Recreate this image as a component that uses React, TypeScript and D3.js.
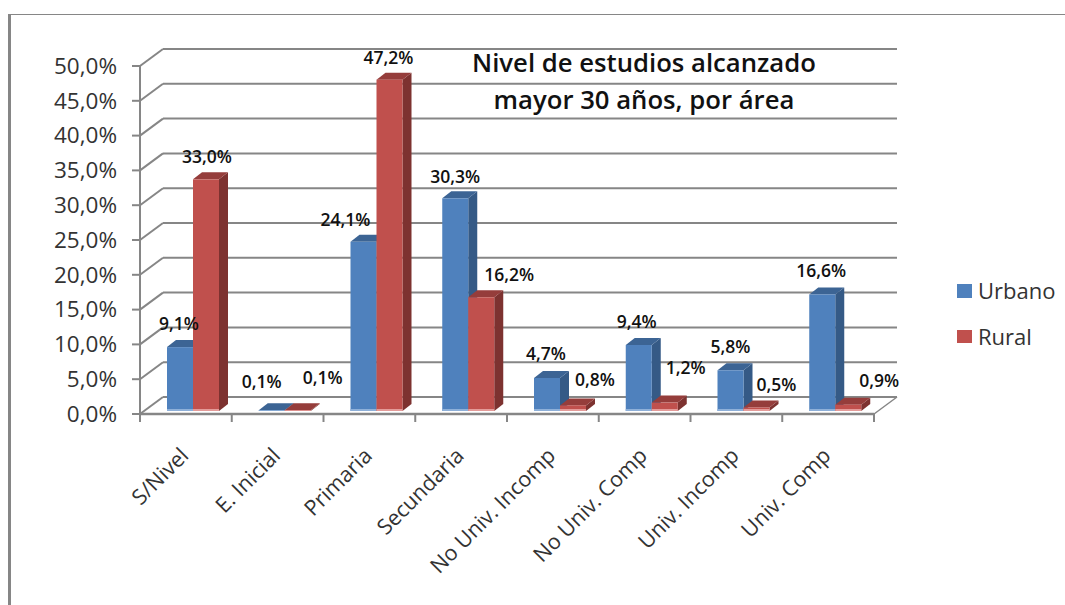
import React from "react";
import * as d3 from "d3";

const categories = ["S/Nivel", "E. Inicial", "Primaria", "Secundaria", "No Univ. Incomp", "No Univ. Comp", "Univ. Incomp", "Univ. Comp"];
const urbano = [9.1, 0.1, 24.1, 30.3, 4.7, 9.4, 5.8, 16.6];
const rural = [33.0, 0.1, 47.2, 16.2, 0.8, 1.2, 0.5, 0.9];
const ticks = [0, 5, 10, 15, 20, 25, 30, 35, 40, 45, 50];
const titleLines = ["Nivel de estudios alcanzado", "mayor 30 años, por área"];

// hand placed data labels, [dx from bar centre, y centre]
const urbanoLabels = [[-1, 324], [-10, 382], [-18, 220], [0, 177], [-1, 354], [-2, 322], [0, 347], [-1, 271]];
const ruralLabels = [[1, 157], [25, 378], [-1, 58], [28, 275], [22, 380], [21, 368], [20, 385], [31, 381]];

const FONT = "'Open Sans', 'Noto Sans', sans-serif";
const GRID = "#868686";
const BLUE = { front: "#4f81bd", side: "#355a86", top: "#3c6494", light: "#8eb0d9" };
const RED = { front: "#c0504d", side: "#7d3230", top: "#953d3b", light: "#e49b99" };

const margin = { left: 140, right: 874, top: 66, bottom: 414 };
const depth = { x: 23, y: 17 };
const barDepth = { x: 9, y: 7 };
const barW = 26;

const fmt = (v: number) => v.toFixed(1).replace(".", ",") + "%";

const App = () => {
  const x = d3.scaleBand<string>().domain(categories).range([margin.left, margin.right]);
  const y = d3.scaleLinear().domain([0, 50]).range([margin.bottom, margin.top]);
  // bars sit a little behind the front plane
  const yBar = d3.scaleLinear().domain([0, 50]).range([411, 60]);

  const bar = (cat: string, v: number, offset: number, c: typeof BLUE) => {
    const x0 = (x(cat) as number) + 27 + offset;
    const x1 = x0 + barW;
    const yt = yBar(v);
    const yb = yBar(0);
    const top = `M${x0},${yt}L${x0 + barDepth.x},${yt - barDepth.y}L${x1 + barDepth.x},${yt - barDepth.y}L${x1},${yt}Z`;
    const side = `M${x1},${yt}L${x1 + barDepth.x},${yt - barDepth.y}L${x1 + barDepth.x},${yb - barDepth.y}L${x1},${yb}Z`;
    return (
      <g key={cat + offset}>
        <path d={side} fill={c.side} />
        <path d={top} fill={c.top} />
        <rect x={x0} y={yt} width={barW} height={yb - yt} fill={c.front} />
        <rect x={x0} y={yb - Math.min(2, yb - yt)} width={barW} height={Math.min(2, yb - yt)} fill={c.light} />
      </g>
    );
  };

  return (
    <svg width={1065} height={605} style={{ position: "absolute", left: 0, top: 0, background: "#fff" }} fontFamily={FONT}>
      {/* outer frame */}
      <line x1={8} x2={1065} y1={14.5} y2={14.5} stroke={GRID} strokeWidth={1.2} />
      <line x1={9.5} x2={9.5} y1={14} y2={605} stroke={GRID} strokeWidth={3} />

      {/* walls and gridlines */}
      {ticks.map((t) => (
        <g key={t} stroke={GRID} strokeWidth={2} fill="none">
          <line x1={margin.left + depth.x} x2={margin.right + depth.x} y1={y(t) - depth.y} y2={y(t) - depth.y} />
          <line x1={margin.left} x2={margin.left + depth.x} y1={y(t)} y2={y(t) - depth.y} />
          <line x1={margin.left - 8} x2={margin.left} y1={y(t)} y2={y(t)} />
        </g>
      ))}
      <line x1={margin.left} x2={margin.left} y1={margin.top} y2={margin.bottom} stroke={GRID} strokeWidth={2} />
      <line x1={margin.left} x2={margin.right} y1={margin.bottom} y2={margin.bottom} stroke={GRID} strokeWidth={2.5} />
      <line x1={margin.right} x2={margin.right + depth.x} y1={margin.bottom} y2={margin.bottom - depth.y} stroke={GRID} strokeWidth={1.5} />
      {[...categories.map((c) => x(c) as number), margin.right].map((px) => (
        <line key={px} x1={px} x2={px} y1={margin.bottom} y2={margin.bottom + 8} stroke={GRID} strokeWidth={2} />
      ))}

      {/* tick labels */}
      {ticks.map((t) => (
        <text key={t} x={117} y={y(t)} dy="0.35em" textAnchor="end" fontSize={22.5} fill="#333">
          {fmt(t)}
        </text>
      ))}
      {categories.map((c) => {
        const cx = (x(c) as number) + x.bandwidth() / 2 + 4;
        return (
          <text key={c} transform={`translate(${cx},457) rotate(-45)`} textAnchor="end" fontSize={21.5} fill="#333">
            {c}
          </text>
        );
      })}

      {/* bars */}
      {categories.map((c, i) => (
        <g key={c}>
          {bar(c, urbano[i], 0, BLUE)}
          {bar(c, rural[i], barW, RED)}
        </g>
      ))}

      {/* data labels */}
      {categories.map((c, i) => {
        const x0 = (x(c) as number) + 27;
        return (
          <g key={c} fontSize={17.5} fontWeight={600} fill="#111" textAnchor="middle">
            <text x={x0 + barW / 2 + urbanoLabels[i][0]} y={urbanoLabels[i][1]} dy="0.35em">{fmt(urbano[i])}</text>
            <text x={x0 + barW * 1.5 + ruralLabels[i][0]} y={ruralLabels[i][1]} dy="0.35em">{fmt(rural[i])}</text>
          </g>
        );
      })}

      {/* title */}
      {titleLines.map((l, i) => (
        <text key={l} x={644} y={63 + i * 37} dy="0.35em" textAnchor="middle" fontSize={25.7} fontWeight={600} fill="#111">
          {l}
        </text>
      ))}

      {/* legend */}
      <rect x={957} y={284} width={15} height={14} fill={BLUE.front} />
      <text x={978} y={291} dy="0.35em" fontSize={22} fill="#333">Urbano</text>
      <rect x={957} y={330} width={15} height={13} fill={RED.front} />
      <text x={978} y={337} dy="0.35em" fontSize={22} fill="#333">Rural</text>
    </svg>
  );
};

export default App;
